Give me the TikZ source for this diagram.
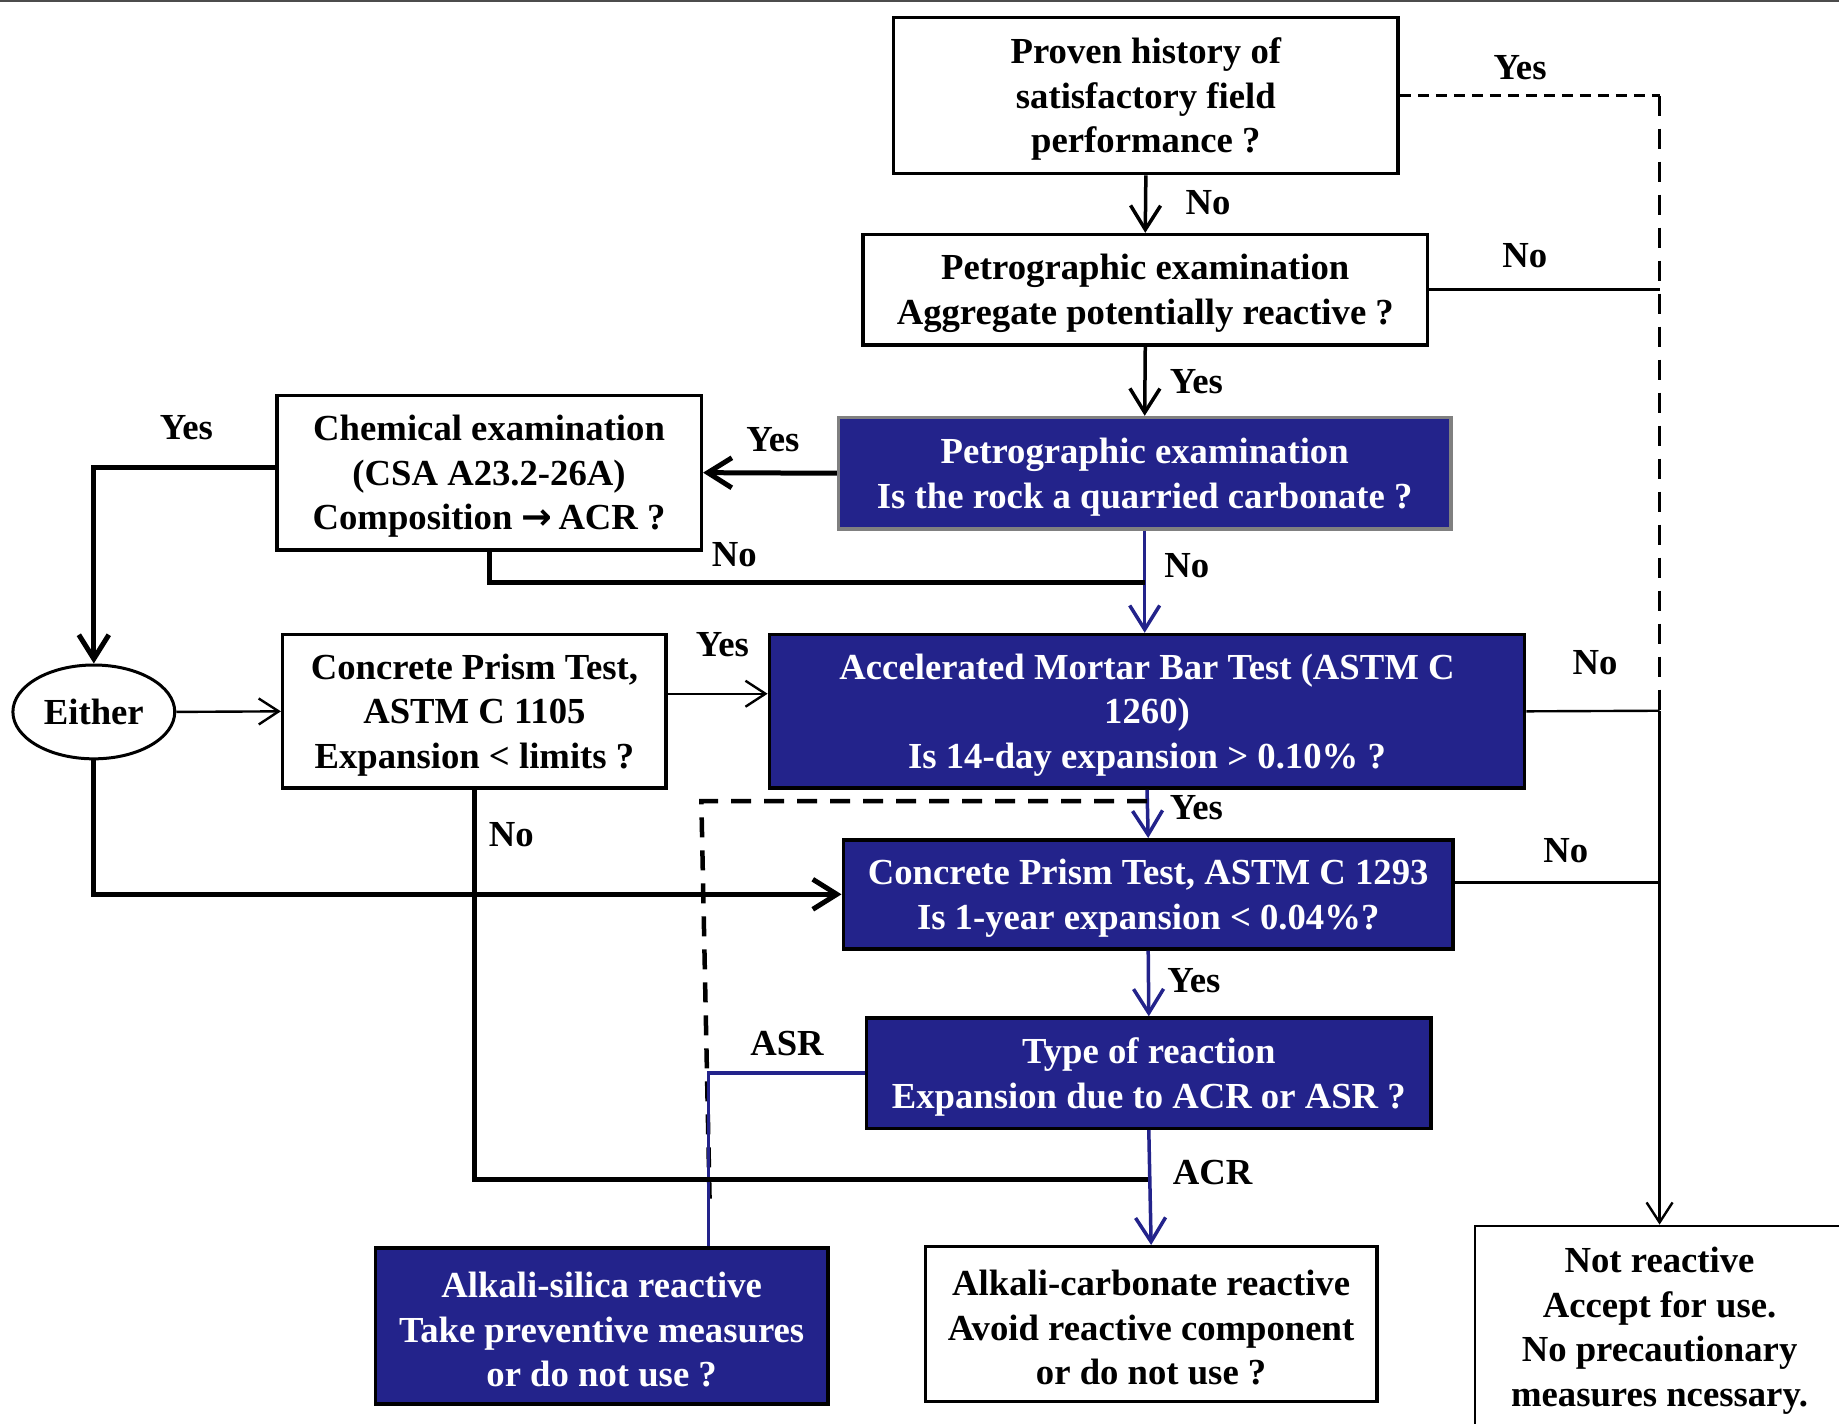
\documentclass[tikz,border=0pt]{standalone}
\usepackage{fontspec}
\setmainfont{Liberation Serif}
\newfontfamily\arrfont{DejaVu Sans}
\usetikzlibrary{arrows.meta,shapes.geometric,calc}
\definecolor{dblue}{RGB}{35,35,139}
\def\uu{1.1728pt}
\newcommand\topst{\rule{0pt}{33pt}}
\begin{document}
\begin{tikzpicture}[x=1.1728pt,y=-1.1728pt,
  every node/.style={font=\fontsize{36.7}{44.6}\selectfont\bfseries},
  wbox/.style={draw=black, line width=3.5pt, fill=white, align=center, inner sep=0pt},
  bbox/.style={draw=black, line width=3.5pt, fill=dblue, text=white, align=center, inner sep=0pt},
  lbl/.style={inner sep=0pt},
  arr/.style={-{Straight Barb[length=24pt,width=30pt]}},
  arrs/.style={-{Straight Barb[length=20pt,width=26pt]}},
  thk/.style={line width=5pt, black},
  med/.style={line width=3.5pt, black},
  thn/.style={line width=2.4pt, black},
  bl/.style={line width=3.5pt, dblue},
]
\useasboundingbox (0,0) rectangle (1568,1214);
\clip (0,0) rectangle (1568,1214);
\fill[white] (0,0) rectangle (1568,1214);
\draw[line width=2.4pt, black!70] (0,1) -- (1568,1);

% nodes
\node[wbox, minimum width=430*\uu, minimum height=133*\uu] (proven) at (977,81.5) {\topst Proven history of\\satisfactory field\\performance ?};
\node[wbox, minimum width=481*\uu, minimum height=94*\uu] (petroA) at (976.5,247) {\topst Petrographic examination\\Aggregate potentially reactive ?};
\node[bbox, draw=gray, minimum width=522*\uu, minimum height=95*\uu] (petroB) at (976,403.5) {\topst Petrographic examination\\Is the rock a quarried carbonate ?};
\node[wbox, minimum width=362*\uu, minimum height=132*\uu] (chem) at (417,403) {\topst Chemical examination\\(CSA A23.2-26A)\\Composition {\arrfont\bfseries →}\,ACR ?};
\node[draw, ellipse, line width=3pt, fill=white, minimum width=138*\uu, minimum height=80*\uu, inner sep=0pt] (either) at (80,607) {Either};
\node[wbox, minimum width=327*\uu, minimum height=131*\uu] (cptA) at (404.5,606.5) {\topst Concrete Prism Test,\\ASTM C 1105\\Expansion < limits ?};
\node[bbox, minimum width=644*\uu, minimum height=131*\uu] (ambt) at (978,606.5) {\topst Accelerated Mortar Bar Test (ASTM C\\1260)\\Is 14-day expansion > 0.10\% ?};
\node[bbox, minimum width=520*\uu, minimum height=93*\uu] (cptB) at (979,762.5) {\topst Concrete Prism Test, ASTM C 1293\\Is 1-year expansion < 0.04\%?};
\node[bbox, minimum width=481*\uu, minimum height=94*\uu] (type) at (979.5,915) {\topst Type of reaction\\Expansion due to ACR or ASR ?};
\node[bbox, minimum width=386*\uu, minimum height=133*\uu] (asr) at (513,1130.5) {\topst Alkali-silica reactive\\Take preventive measures\\or do not use ?};
\node[wbox, minimum width=385*\uu, minimum height=132*\uu] (acr) at (981.5,1129) {\topst Alkali-carbonate reactive\\Avoid reactive component\\or do not use ?};
\node[wbox, line width=2pt, minimum width=314*\uu, minimum height=173*\uu] (notr) at (1415,1131.5) {\topst Not reactive\\Accept for use.\\No precautionary\\measures ncessary.};

% coordinates
\coordinate (R1) at (1415,606);
\coordinate (J2) at (976,497);
\coordinate (J3) at (979.5,1006);
\coordinate (J4) at (978,683);
\coordinate (D1) at (598,683);
\coordinate (D2) at (605,1022);
\coordinate (K) at (604,915);
\coordinate (nB) at ([yshift=10*\uu]cptB.east);
\coordinate (cW) at ([yshift=4*\uu]chem.west);

% connectors
\draw[med, arr] (proven.south) -- (petroA.north);
\draw[line width=3.2pt, dash pattern=on 11pt off 7pt] (proven.east) -- (proven.east -| R1);
\draw[line width=2.4pt, dash pattern=on 20pt off 13pt] (proven.east -| R1) -- (R1);
\draw[thn] (petroA.east) -- (petroA.east -| R1);
\draw[thn, arrs] (R1) -- (notr.north);
\draw[thn] (ambt.east) -- (R1);
\draw[thn] (nB) -- (nB -| R1);
\draw[med, arr] (petroA.south) -- (petroB.north);
\draw[thk, arr] (petroB.west) -- (chem.east);
\draw[bl, arr] (petroB.south) -- (petroB.south |- ambt.north);
\draw[thk] (chem.south) |- (J2);
\draw[thk, arr] (cW) -| (either.north);
\draw[thn, arrs] (either.east) -- (cptA.west);
\draw[thn, arrs] ([yshift=15*\uu]cptA.east) -- ([yshift=15*\uu]ambt.west);
\draw[thk, arr] (either.south) |- (cptB.west);
\draw[bl, arr] (ambt.south) -- (cptB.north);
\draw[line width=4.5pt, dash pattern=on 20pt off 13pt] (J4) -- (D1) -- (D2);
\draw[bl, arr] (cptB.south) -- (type.north);
\draw[bl] (type.west) -- (K) -- (K |- asr.north);
\draw[thk] (cptA.south) |- (J3);
\draw[bl, arr] (type.south) -- (acr.north);

% labels
\node[lbl] (y1) at (1296,58) {Yes};
\node[lbl] (n1) at (1030,173) {No};
\node[lbl] (n2) at (1300,218) {No};
\node[lbl] (y2) at (1020,325) {Yes};
\node[lbl] (y3) at (659,375) {Yes};
\node[lbl] (y4) at (159,365) {Yes};
\node[lbl] (n3) at (626,473) {No};
\node[lbl] (n4) at (1012,482) {No};
\node[lbl] (y5) at (616,550) {Yes};
\node[lbl] (n5) at (1360,565) {No};
\node[lbl] (y6) at (1020,689) {Yes};
\node[lbl] (n6) at (436,712) {No};
\node[lbl] (n7) at (1335,725) {No};
\node[lbl] (y7) at (1018,836) {Yes};
\node[lbl] (asrl) at (671,890) {ASR};
\node[lbl] (acrl) at (1034,1000) {ACR};
\end{tikzpicture}
\end{document}
